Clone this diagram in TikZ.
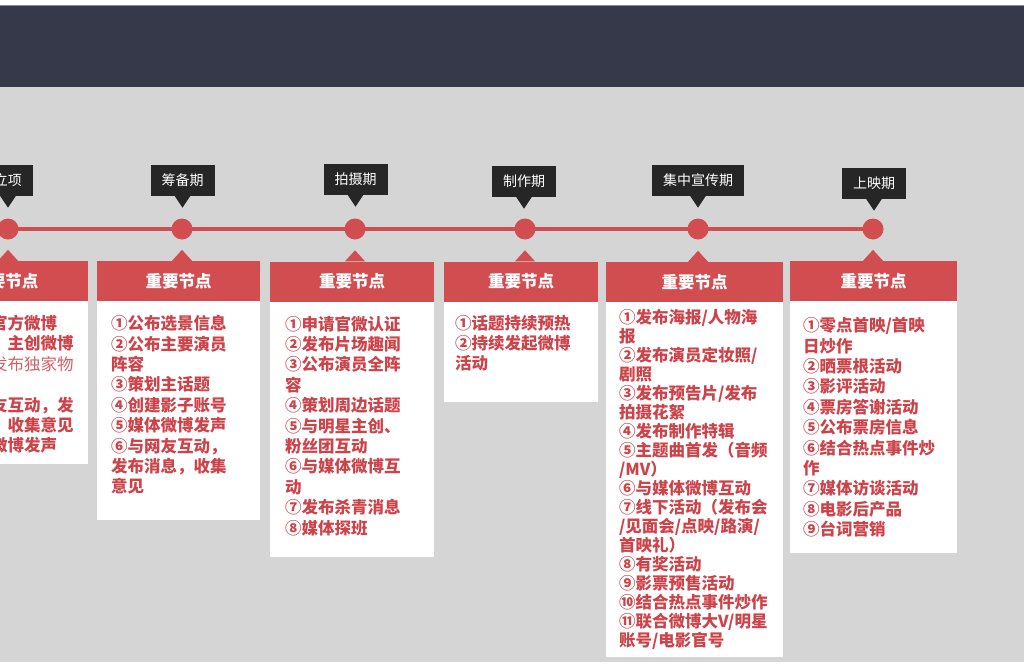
\documentclass[tikz,border=0pt]{standalone}
\usepackage{fontspec}
\usepackage{tikz}
\usetikzlibrary{calc, positioning}
\newfontfamily\cjk{Noto Sans CJK SC}
\definecolor{Banner} {HTML}{353949}
\definecolor{Paper}  {HTML}{D5D5D5}
\definecolor{Brick}  {HTML}{D14D50}
\definecolor{TagInk} {HTML}{262626}
\definecolor{ListRed}{HTML}{CC444A}

\begin{document}
\begin{tikzpicture}[
  x=1pt, y=-1pt,
  font=\cjk,
  dot/.style={circle, fill=Brick, minimum size=21pt, inner sep=0pt},
  tag/.style={fill=TagInk, text=white, font=\cjk\fontsize{14}{16}\selectfont,
              inner xsep=11pt, inner ysep=0pt, minimum height=31pt},
  hdr/.style={fill=Brick, text=white, font=\cjk\bfseries\fontsize{16.5}{20}\selectfont,
              minimum height=40pt, inner sep=0pt},
  card/.style={fill=white, anchor=north, inner sep=0pt},
  items/.style={anchor=north west, inner sep=0pt, align=left, text=ListRed,
                font=\cjk\bfseries\fontsize{16.5}{20.4}\selectfont},
  tl/.style={draw=Brick, line width=4pt}
]
  \useasboundingbox (0,0) rectangle (1024,669);
  \fill[white]  (0,0) rectangle (1024,669);
  \fill[Paper]  (0,87) rectangle (1024,662);
  \fill[Banner] (0,5) rectangle (1024,87);
  \fill[Banner!60!white] (0,5) rectangle (1024,6.5);

  % the time line and its stops
  \coordinate (start) at (0,229);
  \node[dot] (c1) at (8,229) {};
  \node[dot] (c2) at (182,229) {};
  \node[dot] (c3) at (355,229) {};
  \node[dot] (c4) at (525,229) {};
  \node[dot] (c5) at (698,229) {};
  \node[dot] (c6) at (873,229) {};
  \draw[tl] (start) -- (c6.center);

  % phase tags above the line
  \node[tag] (tag1) at (8,180)     {立项};
  \node[tag] (tag2) at (182.5,180) {筹备期};
  \node[tag] (tag3) at (355.5,179) {拍摄期};
  \node[tag] (tag4) at (524,181)   {制作期};
  \node[tag] (tag5) at (698,180)   {集中宣传期};
  \node[tag] (tag6) at (874,183)   {上映期};
  \foreach \t in {tag1,tag2,tag3,tag4,tag5,tag6}
    \fill[TagInk] ($(\t.south)+(-8,0)$) -- ($(\t.south)+(0,12)$) -- ($(\t.south)+(8,0)$) -- cycle;

  % red headers
  \node[hdr, minimum width=165pt] (hdr1) at (5.5,281)   {重要节点};
  \node[hdr, minimum width=163pt] (hdr2) at (178.5,281) {重要节点};
  \node[hdr, minimum width=164pt] (hdr3) at (352,281.5) {重要节点};
  \node[hdr, minimum width=154pt] (hdr4) at (521,281.5) {重要节点};
  \node[hdr, minimum width=177pt] (hdr5) at (694.5,282) {重要节点};
  \node[hdr, minimum width=167pt] (hdr6) at (873.5,281) {重要节点};
  \fill[Brick] ($(c1 |- hdr1.north)+(-10,0)$) -- ($(c1 |- hdr1.north)+(0,-11)$) -- ($(c1 |- hdr1.north)+(10,0)$) -- cycle;
  \fill[Brick] ($(c2 |- hdr2.north)+(-10,0)$) -- ($(c2 |- hdr2.north)+(0,-11)$) -- ($(c2 |- hdr2.north)+(10,0)$) -- cycle;
  \fill[Brick] ($(c3 |- hdr3.north)+(-10,0)$) -- ($(c3 |- hdr3.north)+(0,-11)$) -- ($(c3 |- hdr3.north)+(10,0)$) -- cycle;
  \fill[Brick] ($(c4 |- hdr4.north)+(-10,0)$) -- ($(c4 |- hdr4.north)+(0,-11)$) -- ($(c4 |- hdr4.north)+(10,0)$) -- cycle;
  \fill[Brick] ($(c5 |- hdr5.north)+(-10,0)$) -- ($(c5 |- hdr5.north)+(0,-11)$) -- ($(c5 |- hdr5.north)+(10,0)$) -- cycle;
  \fill[Brick] ($(c6 |- hdr6.north)+(-10,0)$) -- ($(c6 |- hdr6.north)+(0,-11)$) -- ($(c6 |- hdr6.north)+(10,0)$) -- cycle;

  % white cards
  \node[card, minimum width=165pt, minimum height=163pt] (body1) at (hdr1.south) {};
  \node[card, minimum width=163pt, minimum height=219pt] (body2) at (hdr2.south) {};
  \node[card, minimum width=164pt, minimum height=255pt] (body3) at (hdr3.south) {};
  \node[card, minimum width=154pt, minimum height=100pt] (body4) at (hdr4.south) {};
  \node[card, minimum width=177pt, minimum height=355pt] (body5) at (hdr5.south) {};
  \node[card, minimum width=167pt, minimum height=252pt] (body6) at (hdr6.south) {};

  % the lists
  \node[items] (list1) at (-9,315)
    {官方微博\\ \hspace{1em}主创微博\\ {\mdseries\color{ListRed!85!white}发布独家物}\\[20.4pt]
     友互动，发\\ \hspace{1em}收集意见\\ 微博发声};
  \node[items] (list2) at ($(body2.north west)+(14,14)$)
    {①公布选景信息\\ ②公布主要演员\\ 阵容\\ ③策划主话题\\ ④创建影子账号\\
     ⑤媒体微博发声\\ ⑥与网友互动，\\ 发布消息，收集\\ 意见};
  \node[items] (list3) at ($(body3.north west)+(15,14)$)
    {①申请官微认证\\ ②发布片场趣闻\\ ③公布演员全阵\\ 容\\ ④策划周边话题\\
     ⑤与明星主创、\\ 粉丝团互动\\ ⑥与媒体微博互\\ 动\\ ⑦发布杀青消息\\ ⑧媒体探班};
  \node[items] (list4) at ($(body4.north west)+(11,13)$)
    {①话题持续预热\\ ②持续发起微博\\ 活动};
  \node[items, font=\cjk\bfseries\fontsize{16.5}{19}\selectfont] (list5) at ($(body5.north west)+(13,7)$)
    {①发布海报/人物海\\ 报\\ ②发布演员定妆照/\\ 剧照\\ ③发布预告片/发布\\ 拍摄花絮\\
     ④发布制作特辑\\ ⑤主题曲首发（音频\\ /MV）\\ ⑥与媒体微博互动\\
     ⑦线下活动（发布会\\ /见面会/点映/路演/\\ 首映礼）\\ ⑧有奖活动\\ ⑨影票预售活动\\
     ⑩结合热点事件炒作\\ ⑪联合微博大V/明星\\ 账号/电影官号};
  \node[items] (list6) at ($(body6.north west)+(13,16)$)
    {①零点首映/首映\\ 日炒作\\ ②晒票根活动\\ ③影评活动\\ ④票房答谢活动\\
     ⑤公布票房信息\\ ⑥结合热点事件炒\\ 作\\ ⑦媒体访谈活动\\ ⑧电影后产品\\ ⑨台词营销};
\end{tikzpicture}
\end{document}
